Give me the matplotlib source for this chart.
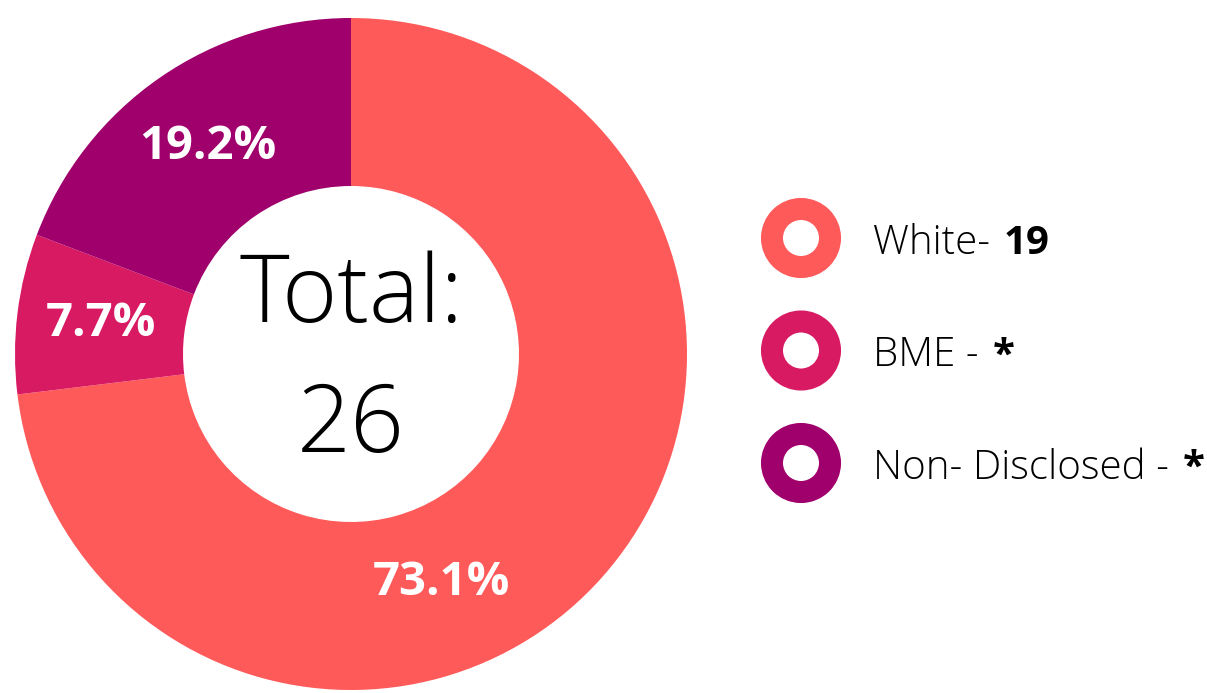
import matplotlib
matplotlib.use("Agg")
import matplotlib.pyplot as plt

# Daten
categories = ["White", "BME", "Non- Disclosed"]
counts = [19, 2, 5]
legend_values = ["19", "*", "*"]
colors = ["#FF5A5A", "#D81A63", "#A0006B"]
total = sum(counts)

FONT = "Open Sans"
W, H = 1207, 693

fig = plt.figure(figsize=(W / 100, H / 100), dpi=100)

# Donut: Mitte (351, 354) px, Radius 336 px
cx, cy, r = 351, 354, 336
ax = fig.add_axes([(cx - r) / W, (H - cy - r) / H, 2 * r / W, 2 * r / H])
wedges, _, autotexts = ax.pie(
    counts, colors=colors, startangle=90, counterclock=False,
    autopct="%1.1f%%", pctdistance=0.75,
    wedgeprops=dict(width=0.5, linewidth=0),
    textprops=dict(color="white", fontsize=34, fontweight="bold", family=FONT),
)
# Label "73.1%" sitzt im Original weiter unten
autotexts[0].set_position((0.27, -0.68))
ax.set_xlim(-1, 1)
ax.set_ylim(-1, 1)
ax.set_aspect("equal")
ax.axis("off")

# Overlay in Pixelkoordinaten
ov = fig.add_axes([0, 0, 1, 1])
ov.set_xlim(0, W)
ov.set_ylim(H, 0)
ov.axis("off")

ov.text(cx, 322, "Total:", ha="center", va="baseline", fontsize=68,
        family=FONT, fontweight="light")
ov.text(cx, 452, str(total), ha="center", va="baseline", fontsize=68,
        family=FONT, fontweight="light")

# Legende
mark_x, text_x = 801, 873
ys = [238 + i * 112.5 for i in range(len(categories))]
ov.scatter([mark_x] * len(ys), ys, s=1747, facecolor="white",
           edgecolor=colors, linewidths=15.84, zorder=3)

fig.canvas.draw()
renderer = fig.canvas.get_renderer()
for i, (cat, val) in enumerate(zip(categories, legend_values)):
    label = cat + "-" if cat == "White" else cat + " -"
    t = ov.text(text_x, ys[i] + 16, label, ha="left", va="baseline",
                fontsize=29, family=FONT, fontweight="light")
    bb = t.get_window_extent(renderer)
    ov.text(bb.x1 + 14, ys[i] + 16, val, ha="left", va="baseline",
            fontsize=29, family=FONT, fontweight="bold")

fig.savefig("out.png", dpi=100)
